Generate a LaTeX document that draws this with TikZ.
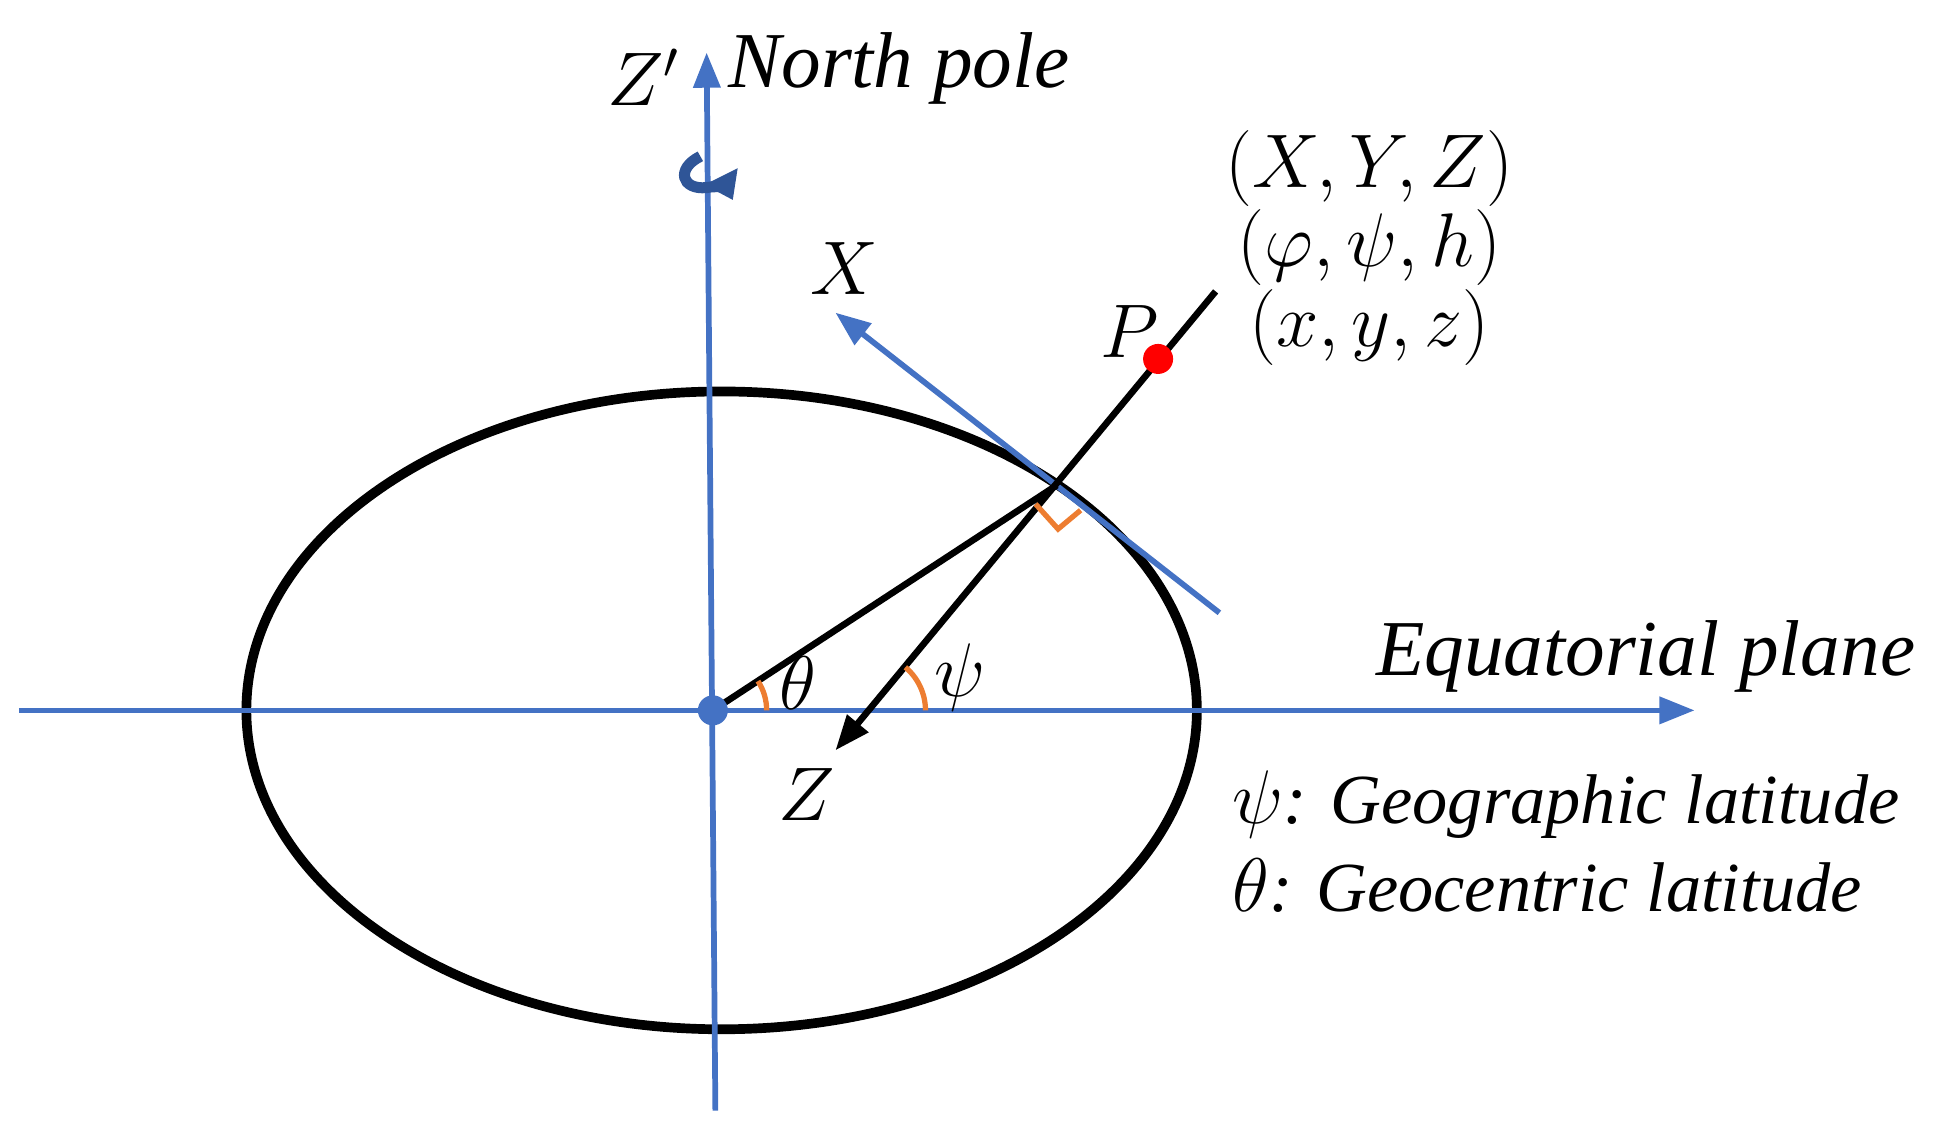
\documentclass[tikz,border=0pt]{standalone}
\usepackage{fontspec}
\setmainfont{Liberation Serif}
\usetikzlibrary{arrows.meta}
\definecolor{axblue}{RGB}{68,114,196}
\definecolor{darkblue}{RGB}{47,85,151}
\definecolor{angor}{RGB}{237,125,49}
\begin{document}
\begin{tikzpicture}[x=0.01cm,y=-0.01cm,
  ax/.style={draw=axblue,line width=1.3pt},
  blk/.style={draw=black,line width=1.5pt},
  ang/.style={draw=angor,line width=1.2pt},
  tip/.style={-{Triangle[width=6pt,length=8pt]}},
  lab/.style={font=\fontsize{18}{21}\selectfont\itshape,inner sep=0pt},
  tup/.style={font=\fontsize{18}{21}\selectfont\itshape,inner sep=0pt},
  leg/.style={font=\fontsize{16}{19}\selectfont\itshape,inner sep=0pt,anchor=west}]
\useasboundingbox (0,0) rectangle (1560,912);
\coordinate (O) at (570,568);
\coordinate (T) at (845,388);
\coordinate (Ntop) at (972,233);
\coordinate (Zend) at (668,600);
\coordinate (Tlo) at (975,490);
\coordinate (Xend) at (668,250);
\coordinate (L) at (15,568);
\coordinate (R) at (1355,568);
\coordinate (B) at (572,888);
\coordinate (Up) at (565,42);
\draw[blk,line width=2.2pt] (577,568) ellipse [x radius=380, y radius=255];
\draw[ax,tip] (L) -- (R);
\draw[ax,tip] (B) -- (Up);
\draw[ax,tip] (Tlo) -- (Xend);
\draw[blk] (O) -- (T);
\draw[blk,tip] (Ntop) -- (Zend);
\draw[ang] (828,403) -- (846,423) -- (864,408);
\draw[ang] (613,568) arc[start angle=0,end angle=-33,radius=43];
\draw[ang] (740,568) arc[start angle=0,end angle=-50,radius=45];
\draw[draw=darkblue,line width=2.5pt,-{Triangle[width=8pt,length=6pt]}]
  (560,125) .. controls (540,135) and (545,152) .. (565,150) .. controls (575,148) and (582,152) .. (586,160);
\fill[red] (926,287) circle (12);
\fill[axblue] (O) circle (12);
\node[lab] (zp) at (515,62) {$Z'$};
\node[lab,anchor=west] (np) at (582,55) {North pole};
\node[lab] (xl) at (675,215) {$X$};
\node[lab] (pl) at (903,265) {$P$};
\node[tup] (t1) at (1095,135) {$(X,Y,Z)$};
\node[tup] (t2) at (1095,198) {$(\varphi,\psi,h)$};
\node[tup] (t3) at (1095,262) {$(x,y,z)$};
\node[lab] (th) at (638,546) {$\theta$};
\node[lab] (ps) at (768,542) {$\psi$};
\node[lab] (zl) at (645,635) {$Z$};
\node[lab,anchor=east] (eq) at (1532,525) {Equatorial plane};
\node[leg] (l1) at (985,643) {$\psi$: Geographic latitude};
\node[leg] (l2) at (985,708) {$\theta$: Geocentric latitude};
\end{tikzpicture}
\end{document}
